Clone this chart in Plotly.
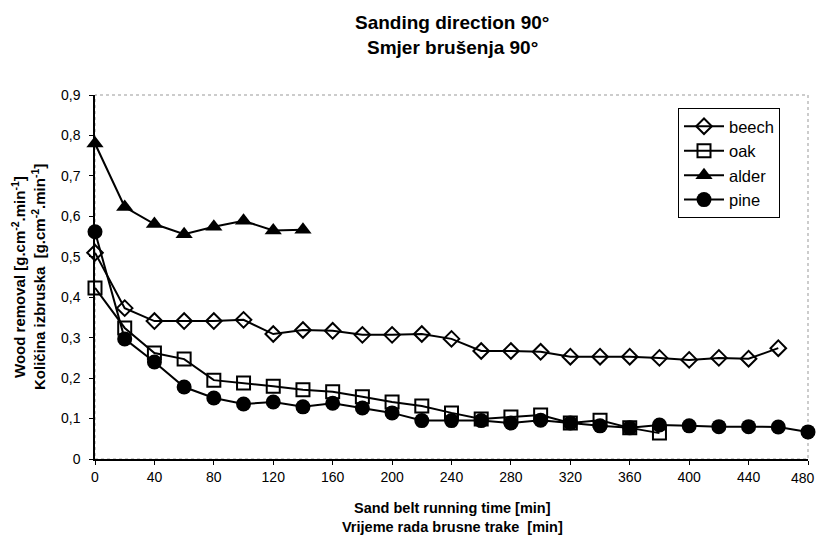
import plotly.graph_objects as go

time_beech = [0, 20, 40, 60, 80, 100, 120, 140, 160, 180, 200, 220, 240, 260, 280, 300, 320, 340, 360, 380, 400, 420, 440, 460]
beech = [0.51, 0.373, 0.341, 0.341, 0.341, 0.344, 0.309, 0.319, 0.317, 0.307, 0.307, 0.309, 0.297, 0.267, 0.267, 0.265, 0.253, 0.253, 0.253, 0.25, 0.245, 0.25, 0.248, 0.274]

time_oak = [0, 20, 40, 60, 80, 100, 120, 140, 160, 180, 200, 220, 240, 260, 280, 300, 320, 340, 360, 380]
oak = [0.423, 0.324, 0.262, 0.247, 0.195, 0.188, 0.18, 0.171, 0.166, 0.154, 0.141, 0.131, 0.114, 0.099, 0.104, 0.109, 0.089, 0.096, 0.077, 0.064]

time_alder = [0, 20, 40, 60, 80, 100, 120, 140]
alder = [0.78, 0.623, 0.581, 0.556, 0.574, 0.589, 0.565, 0.567]

time_pine = [0, 20, 40, 60, 80, 100, 120, 140, 160, 180, 200, 220, 240, 260, 280, 300, 320, 340, 360, 380, 400, 420, 440, 460, 480]
pine = [0.562, 0.297, 0.24, 0.178, 0.151, 0.136, 0.141, 0.129, 0.138, 0.126, 0.114, 0.095, 0.095, 0.095, 0.089, 0.096, 0.089, 0.082, 0.077, 0.084, 0.082, 0.08, 0.08, 0.079, 0.067]

x_ticks = [0, 40, 80, 120, 160, 200, 240, 280, 320, 360, 400, 440, 480]
y_ticks = [0, 0.1, 0.2, 0.3, 0.4, 0.5, 0.6, 0.7, 0.8, 0.9]
y_tick_labels = ["0", "0,1", "0,2", "0,3", "0,4", "0,5", "0,6", "0,7", "0,8", "0,9"]

title_lines = ["Sanding direction 90°", "Smjer brušenja 90°"]
x_title_lines = ["Sand belt running time [min]", "Vrijeme rada brusne trake  [min]"]
y_title_lines = ["Wood removal [g.cm<sup>-2</sup>.min<sup>-1</sup>]",
                 "Količina izbruska  [g.cm<sup>-2</sup>.min<sup>-1</sup>]"]

FONT = "Liberation Sans, Arial, sans-serif"
W, H = 817, 538
L, R, T, B = 95, 9, 95, 79
PW, PH = W - L - R, H - T - B

line = dict(color="black", width=2)

fig = go.Figure()
fig.add_trace(go.Scatter(x=time_beech, y=beech, name="beech", mode="lines+markers", line=line, cliponaxis=False,
                         marker=dict(symbol="diamond-open", size=12, color="black", line=dict(width=2))))
fig.add_trace(go.Scatter(x=time_oak, y=oak, name="oak", mode="lines+markers", line=line, cliponaxis=False,
                         marker=dict(symbol="square-open", size=13, color="black", line=dict(width=2))))
fig.add_trace(go.Scatter(x=time_alder, y=alder, name="alder", mode="lines+markers", line=line, cliponaxis=False,
                         marker=dict(symbol="triangle-up", size=15, color="black")))
fig.add_trace(go.Scatter(x=time_pine, y=pine, name="pine", mode="lines+markers", line=line, cliponaxis=False,
                         marker=dict(symbol="circle", size=15, color="black")))

fig.add_shape(type="rect", xref="paper", yref="paper", x0=0, y0=0, x1=1, y1=1,
              line=dict(color="#999999", width=1, dash="dot"), layer="below")

def py(pix):  # pixel row -> paper y
    return (H - B - pix) / PH

def px(pix):  # pixel column -> paper x
    return (pix - L) / PW

annotations = []
for text, ypix in zip(title_lines, [22, 47]):
    annotations.append(dict(text=f"<b>{text}</b>", x=px(452), y=py(ypix), xref="paper", yref="paper",
                            xanchor="center", yanchor="middle", showarrow=False,
                            font=dict(size=19, family=FONT, color="black")))
for text, ypix in zip(x_title_lines, [508, 527]):
    annotations.append(dict(text=f"<b>{text}</b>", x=px(452), y=py(ypix), xref="paper", yref="paper",
                            xanchor="center", yanchor="middle", showarrow=False,
                            font=dict(size=14.5, family=FONT, color="black")))
for text, xpix in zip(y_title_lines, [18, 38]):
    annotations.append(dict(text=f"<b>{text}</b>", x=px(xpix), y=py(277), xref="paper", yref="paper",
                            xanchor="center", yanchor="middle", showarrow=False, textangle=-90,
                            font=dict(size=15, family=FONT, color="black")))
# last x tick label sits on the page edge (plotly would drop it); draw it just inside the page
annotations.append(dict(text=str(x_ticks[-1]), x=x_ticks[-1], xref="x", y=0, yref="paper",
                        xanchor="center", yanchor="top", yshift=-9, xshift=-5, showarrow=False,
                        font=dict(size=14, family=FONT, color="black")))

fig.update_layout(
    width=W, height=H,
    margin=dict(l=L, r=R, t=T, b=B),
    paper_bgcolor="white", plot_bgcolor="white",
    font=dict(family=FONT, color="black", size=14),
    showlegend=True,
    annotations=annotations,
    legend=dict(x=px(678), y=py(108), xanchor="left", yanchor="top",
                bordercolor="black", borderwidth=1, bgcolor="white",
                font=dict(size=16.5, family=FONT), itemwidth=40, tracegroupgap=0),
    xaxis=dict(range=[0, 480], tickvals=x_ticks, showgrid=False, zeroline=False, automargin=False,
               showline=True, linecolor="black", linewidth=1.5,
               ticks="outside", ticklen=4, tickcolor="black",
               tickfont=dict(size=14, family=FONT)),
    yaxis=dict(range=[0, 0.9], tickvals=y_ticks, ticktext=y_tick_labels, showgrid=False, zeroline=False,
               automargin=False, showline=True, linecolor="black", linewidth=1.5,
               ticks="outside", ticklen=4, tickcolor="black", ticklabelstandoff=6,
               tickfont=dict(size=14, family=FONT)),
)

fig.write_html("out.html", config={"displayModeBar": False},
               post_script="document.body.style.margin='0px';")
